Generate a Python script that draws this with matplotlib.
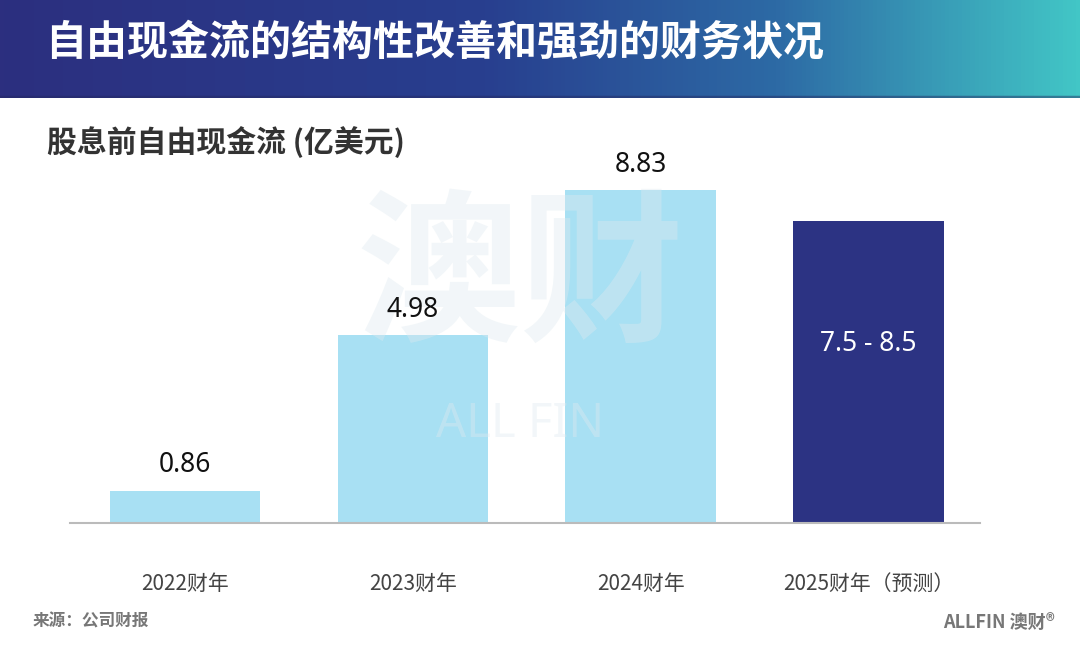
import matplotlib.pyplot as plt
import numpy as np
from matplotlib.colors import LinearSegmentedColormap

plt.rcParams['font.family'] = ['Noto Sans CJK SC', 'DejaVu Sans']

# 数据
categories = ['2022财年', '2023财年', '2024财年', '2025财年（预测）']
values = [0.86, 4.98, 8.83, 8.0]
value_labels = ['0.86', '4.98', '8.83', '7.5 - 8.5']
bar_colors = ['#a8e0f3', '#a8e0f3', '#a8e0f3', '#2c3383']

W, H = 1080, 657
fig = plt.figure(figsize=(W / 100, H / 100), dpi=100)
fig.patch.set_facecolor('white')

# 顶部渐变标题栏
hdr = fig.add_axes([0, 1 - 98 / H, 1, 98 / H])
cmap = LinearSegmentedColormap.from_list(
    'hdr', [(0, '#2c2f7f'), (0.45, '#283f8f'), (0.72, '#2d6aa5'), (1, '#42c6c6')])
hdr.imshow(np.linspace(0, 1, 256)[None, :], aspect='auto', cmap=cmap, extent=[0, 1, 0, 1])
hdr.axhline(0.015, color='#24285f', lw=2.5, alpha=0.45)
hdr.set_xlim(0, 1)
hdr.set_ylim(0, 1)
hdr.axis('off')
hdr.text(45 / W, 0.57, '自由现金流的结构性改善和强劲的财务状况', color='white',
         fontsize=29.5, fontweight='heavy', ha='left', va='center')

# 主图
bottom = 1 - 523 / H
top_px = 150
ax = fig.add_axes([70 / W, bottom, 910 / W, (523 - top_px) / H])
x = np.arange(len(categories))
px_per_unit = (523 - 190) / 8.83
ax.set_xlim(-0.505, 3.49)
ax.set_ylim(0, (523 - top_px) / px_per_unit)
ax.bar(x, values, width=0.66, color=bar_colors, zorder=2)

for i, (v, lab) in enumerate(zip(values, value_labels)):
    if i == 3:
        ax.text(i, v - 3.25, lab, ha='center', va='center', fontsize=19,
                color='white', family=['Noto Sans', 'DejaVu Sans'], zorder=5)
    else:
        ax.text(i, v + 0.3, lab, ha='center', va='bottom',
                fontsize=19, color='#111111', family=['Noto Sans', 'DejaVu Sans'], zorder=5)

for s in ['top', 'right', 'left']:
    ax.spines[s].set_visible(False)
ax.spines['bottom'].set_color('#bbbbbb')
ax.spines['bottom'].set_linewidth(1.5)
ax.set_yticks([])
ax.set_xticks(x)
ax.set_xticklabels(categories, fontsize=15, color='#444444')
ax.tick_params(axis='x', length=0, pad=36)
ax.patch.set_alpha(0)

# 水印（半透明，叠在柱子上方）
ax.text(1.47, 6.45, '澳财', fontsize=118, fontweight='heavy', color='#dfeaf0',
        alpha=0.4, ha='center', va='center', zorder=3, transform=ax.transData)
ax.text(1.47, 2.6, 'ALL FIN', fontsize=34, fontweight='bold', color='#dfeaf0',
        alpha=0.4, ha='center', va='center', zorder=3,
        family=['Noto Sans', 'DejaVu Sans'])

# 副标题
fig.text(47 / W, 1 - 142 / H, '股息前自由现金流 (亿美元)', fontsize=21.5, fontweight='bold',
         color='#333333', ha='left', va='center')

# 页脚
fig.text(33 / W, 1 - 621 / H, '来源：公司财报', fontsize=12, fontweight='bold',
         color='#777777', ha='left', va='center')
fig.text(1055 / W, 1 - 622 / H, 'ALLFIN 澳财®', fontsize=13, fontweight='heavy',
         color='#777777', ha='right', va='center')

plt.savefig('out.png', dpi=100)
plt.close()
